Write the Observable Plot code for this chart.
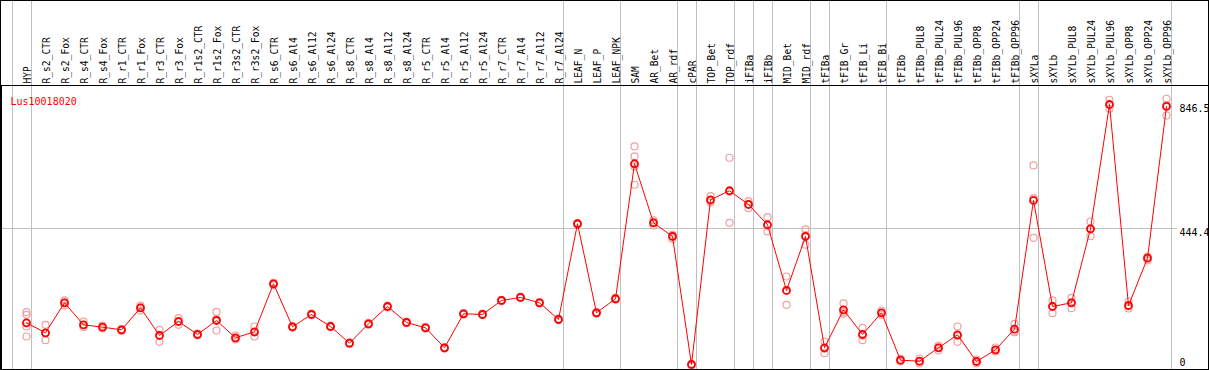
<!DOCTYPE html>
<html><head><meta charset="utf-8">
<script src="https://cdn.jsdelivr.net/npm/d3@7"></script>
<script src="https://cdn.jsdelivr.net/npm/@observablehq/plot@0.6"></script>
<style>
html,body{margin:0;padding:0;background:#fff;}
#chart svg{display:block;outline:1px solid #000;outline-offset:-1px;}
</style></head><body><div id="chart"></div>
<script>
const title = "Lus10018020";
const categories = ["HYP","R_s2_CTR","R_s2_Fox","R_s4_CTR","R_s4_Fox","R_r1_CTR","R_r1_Fox","R_r3_CTR","R_r3_Fox","R_r1s2_CTR","R_r1s2_Fox","R_r3s2_CTR","R_r3s2_Fox","R_s6_CTR","R_s6_Al4","R_s6_Al12","R_s6_Al24","R_s8_CTR","R_s8_Al4","R_s8_Al12","R_s8_Al24","R_r5_CTR","R_r5_Al4","R_r5_Al12","R_r5_Al24","R_r7_CTR","R_r7_Al4","R_r7_Al12","R_r7_Al24","LEAF_N","LEAF_P","LEAF_NPK","SAM","AR_Bet","AR_rdf","cPAR","TOP_Bet","TOP_rdf","iFIBa","iFIBb","MID_Bet","MID_rdf","tFIBa","tFIB_Gr","tFIB_Li","tFIB_Bi","tFIBb","tFIBb_PUL8","tFIBb_PUL24","tFIBb_PUL96","tFIBb_OPP8","tFIBb_OPP24","tFIBb_OPP96","sXYLa","sXYLb","sXYLb_PUL8","sXYLb_PUL24","sXYLb_PUL96","sXYLb_OPP8","sXYLb_OPP24","sXYLb_OPP96"];
const means = [140.4,108.1,205.1,133.9,126.2,117.8,188.9,99.3,144.6,102.6,147.9,91.9,111.3,266.6,127.5,167.3,128.4,74.4,137.2,193.1,141.4,124.2,59.5,169.5,167.3,212.6,222.3,205.1,151.1,460.7,172.8,218.1,654.8,463.9,419.6,5.5,538.3,567.5,523.1,457.5,244.9,419.6,59.5,182.5,102.6,172.8,19.4,16.2,59.5,101.6,15.2,53.1,119.7,536.1,193.1,205.1,444.5,846.5,196.4,349.4,840.2];
const replicates = [
  [174.7,166.3,128.4,96.1],[133.9,106.5,84.1],[213,206,196],[144.6,133.9,126.2],[131.3,125.3,122],
  [120.4,118.8,114.2],[196.4,190.3,180.2],[117.8,101.3,78.9],[155.3,144.6,133.9],[105.8,102.6,99.3],
  [176,152,115.5],[99.3,90,86.4],[128.4,109.4,96.1],[270,267,262],[130,127,125],
  [170,167,165],[131,128,126],[77,74,72],[140,137,134],[196,193,190],
  [144,141,139],[127,124,122],[62,59,57],[172,169,167],[170,167,165],
  [215,212,210],[225,222,220],[208,205,203],[154,151,149],[463,461,458],
  [175,173,170],[221,218,215],[710.8,678.4,646.1,586.9],[471.4,465,455.2],[424.6,422.5,411.7],
  [8.7,5.5,2.3],[550,535.3,529.6],[674.2,564.4,463.9],[533.8,524.3,511.2],[482,454.7,435.8],
  [290.2,245.9,198.6],[442.3,423.7,392.8],[79.9,56.5,42.1],[202.9,175.1,169.5],[124.2,99.5,84.1],
  [180.2,172.6,165.6],[24.9,18.1,15.2],[24.9,15,8.7],[67,60.7,50.8],[128.4,97.5,78.9],
  [21.7,15.2,8.7],[60.5,51.2,47.6],[137.2,111.9,110],[649.3,543.6,415.4],[212.6,195.2,171.5],
  [221.3,206.4,187.6],[468.1,444.8,420.6],[861.9,844.9,832.7],[209.3,193.2,186.7],[354.9,351.3,342],
  [865.1,844.4,811.1]
];
const groupStarts = ["HYP","R_s2_CTR","LEAF_N","SAM","cPAR","TOP_Bet","iFIBa","iFIBb","MID_Bet","tFIBa","tFIB_Gr","tFIBb","sXYLa","sXYLb"];
const yTicks = [0, 444.4, 846.5];
const gridTick = 444.4;

const meanData = categories.map((c, i) => ({cat: c, value: means[i]}));
const repData = categories.flatMap((c, i) => replicates[i].map(v => ({cat: c, value: v})));
const lastCat = categories[categories.length - 1];

const chart = Plot.plot({
  width: 1209, height: 370,
  marginTop: 85, marginBottom: 1, marginLeft: 1, marginRight: 1,
  style: {fontFamily: "DejaVu Sans Mono", fontSize: "9.6px", background: "#fff"},
  x: {type: "point", domain: categories, range: [26, 1166], padding: 0, axis: null},
  y: {domain: [0, 846.5], range: [365.7, 104], axis: null},
  marks: [
    Plot.ruleX(groupStarts, {x: d => d, dx: -14.3, insetTop: -85, stroke: "#c0c0c0", shapeRendering: "crispEdges"}),
    Plot.ruleX([lastCat], {x: d => d, dx: 4.7, insetTop: -85, stroke: "#c0c0c0", shapeRendering: "crispEdges"}),
    Plot.ruleY([gridTick], {y: d => d, insetRight: 31, stroke: "#c0c0c0", shapeRendering: "crispEdges"}),
    Plot.frame({stroke: "#000", shapeRendering: "crispEdges"}),
    Plot.text(categories, {x: d => d, frameAnchor: "top", text: d => d, rotate: -90, textAnchor: "start", dx: -2, dy: -2, fill: "#000"}),
    Plot.text([title], {frameAnchor: "top-left", text: d => d, textAnchor: "start", dx: 9, dy: 12.5, fill: "#ff0000", fontSize: "10px"}),
    Plot.text(yTicks.filter(d => d > 0), {y: d => d, text: d => String(d), frameAnchor: "right", textAnchor: "start", dx: -29, lineAnchor: "top", fill: "#000", fontSize: "10px"}),
    Plot.text(yTicks.filter(d => d === 0), {y: d => d, text: d => String(d), frameAnchor: "right", textAnchor: "start", dx: -29, lineAnchor: "bottom", fill: "#000", fontSize: "10px"}),
    Plot.dot(repData, {x: "cat", y: "value", r: 3.5, stroke: "#f0a0a0", strokeWidth: 1.2, fill: "none"}),
    Plot.line(meanData, {x: "cat", y: "value", stroke: "#ff0000", strokeWidth: 1}),
    Plot.dot(meanData, {x: "cat", y: "value", r: 3.5, stroke: "#ff0000", strokeWidth: 1.8, fill: "none"})
  ]
});
document.getElementById("chart").appendChild(chart);
</script></body></html>
